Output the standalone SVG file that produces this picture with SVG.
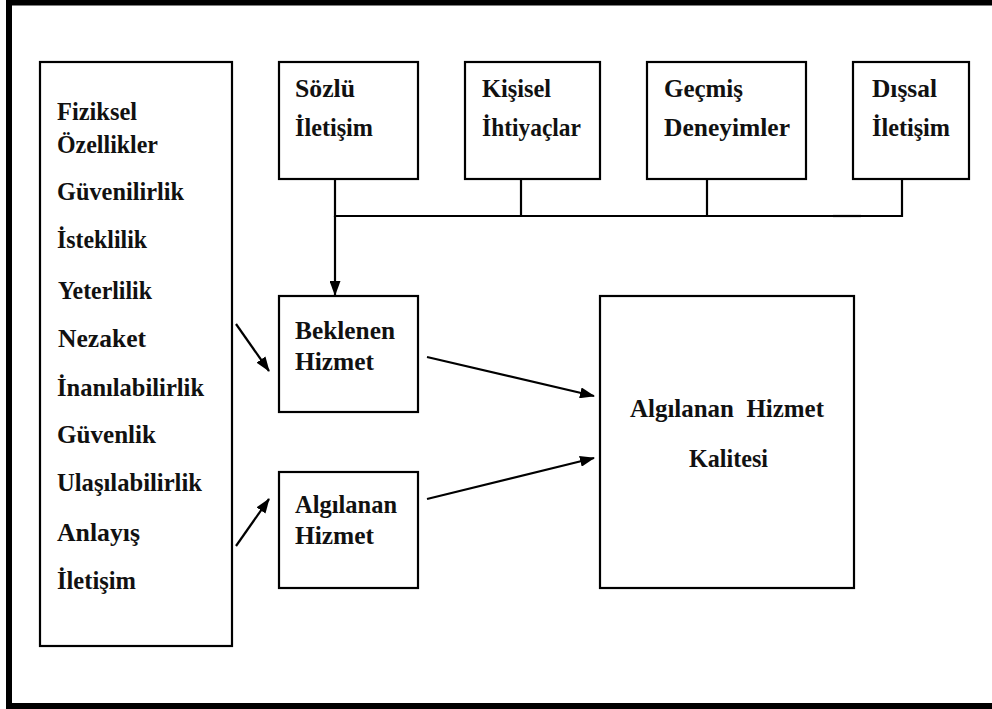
<svg xmlns="http://www.w3.org/2000/svg" width="992" height="709" viewBox="0 0 992 709">
<style>
.box{fill:#fff;stroke:#000;stroke-width:2.2}
.frame{fill:none;stroke:#000;stroke-width:6}
.ln{fill:none;stroke:#000;stroke-width:2.2}
.t{font-family:"Liberation Serif","Times New Roman",serif;font-weight:bold;font-size:25px;fill:#111}
</style>
<defs>
<marker id="ah" markerUnits="userSpaceOnUse" markerWidth="15" markerHeight="11" refX="14" refY="5.5" orient="auto">
<path d="M0,0 L15,5.5 L0,11 Z" fill="#000"/>
</marker>
</defs>
<rect width="992" height="709" fill="#fff"/>
<path class="frame" d="M992,2.5 H9 V706 H992"/>

<g id="dimensions">
<rect class="box" x="40" y="62" width="192" height="584"/>
<text class="t" x="57" y="120" textLength="80" lengthAdjust="spacingAndGlyphs">Fiziksel</text>
<text class="t" x="57" y="153" textLength="101" lengthAdjust="spacingAndGlyphs">Özellikler</text>
<text class="t" x="57" y="200" textLength="127" lengthAdjust="spacingAndGlyphs">Güvenilirlik</text>
<text class="t" x="57" y="248" textLength="90" lengthAdjust="spacingAndGlyphs">İsteklilik</text>
<text class="t" x="58" y="299" textLength="94" lengthAdjust="spacingAndGlyphs">Yeterlilik</text>
<text class="t" x="58" y="347" textLength="88" lengthAdjust="spacingAndGlyphs">Nezaket</text>
<text class="t" x="57" y="396" textLength="147" lengthAdjust="spacingAndGlyphs">İnanılabilirlik</text>
<text class="t" x="57" y="443" textLength="99" lengthAdjust="spacingAndGlyphs">Güvenlik</text>
<text class="t" x="57" y="491" textLength="145" lengthAdjust="spacingAndGlyphs">Ulaşılabilirlik</text>
<text class="t" x="57" y="541" textLength="83" lengthAdjust="spacingAndGlyphs">Anlayış</text>
<text class="t" x="57" y="589" textLength="79" lengthAdjust="spacingAndGlyphs">İletişim</text>
</g>

<g id="sozlu">
<rect class="box" x="279" y="62" width="139" height="117"/>
<text class="t" x="295" y="97" textLength="60" lengthAdjust="spacingAndGlyphs">Sözlü</text>
<text class="t" x="295" y="136" textLength="78" lengthAdjust="spacingAndGlyphs">İletişim</text>
</g>

<g id="kisisel">
<rect class="box" x="465" y="62" width="135" height="117"/>
<text class="t" x="482" y="97" textLength="69" lengthAdjust="spacingAndGlyphs">Kişisel</text>
<text class="t" x="482" y="136" textLength="99" lengthAdjust="spacingAndGlyphs">İhtiyaçlar</text>
</g>

<g id="gecmis">
<rect class="box" x="647" y="62" width="159" height="117"/>
<text class="t" x="664" y="97" textLength="79" lengthAdjust="spacingAndGlyphs">Geçmiş</text>
<text class="t" x="664" y="136" textLength="126" lengthAdjust="spacingAndGlyphs">Deneyimler</text>
</g>

<g id="dissal">
<rect class="box" x="853" y="62" width="116" height="117"/>
<text class="t" x="872" y="97" textLength="65" lengthAdjust="spacingAndGlyphs">Dışsal</text>
<text class="t" x="872" y="136" textLength="78" lengthAdjust="spacingAndGlyphs">İletişim</text>
</g>

<g id="beklenen">
<rect class="box" x="279" y="296" width="139" height="116"/>
<text class="t" x="295" y="339" textLength="100" lengthAdjust="spacingAndGlyphs">Beklenen</text>
<text class="t" x="295" y="370" textLength="79" lengthAdjust="spacingAndGlyphs">Hizmet</text>
</g>

<g id="algilanan">
<rect class="box" x="279" y="472" width="139" height="116"/>
<text class="t" x="295" y="513" textLength="102" lengthAdjust="spacingAndGlyphs">Algılanan</text>
<text class="t" x="295" y="544" textLength="79" lengthAdjust="spacingAndGlyphs">Hizmet</text>
</g>

<g id="kalite">
<rect class="box" x="600" y="296" width="254" height="292"/>
<text class="t" x="630" y="417" textLength="194" lengthAdjust="spacingAndGlyphs" xml:space="preserve">Algılanan  Hizmet</text>
<text class="t" x="689" y="467" textLength="79" lengthAdjust="spacingAndGlyphs">Kalitesi</text>
</g>

<g id="connectors">
<path class="ln" d="M335,179 V216 H902 V179"/>
<path class="ln" d="M521,179 V216"/>
<path class="ln" d="M707,179 V216"/>
<path class="ln" d="M833,216 H861" stroke-width="3"/>
<path class="ln" d="M335,216 V295" marker-end="url(#ah)"/>
<path class="ln" d="M236,324 L269,371" marker-end="url(#ah)"/>
<path class="ln" d="M236,546 L269,499" marker-end="url(#ah)"/>
<path class="ln" d="M427,357 L594,396" marker-end="url(#ah)"/>
<path class="ln" d="M427,499 L594,458" marker-end="url(#ah)"/>
</g>
</svg>
